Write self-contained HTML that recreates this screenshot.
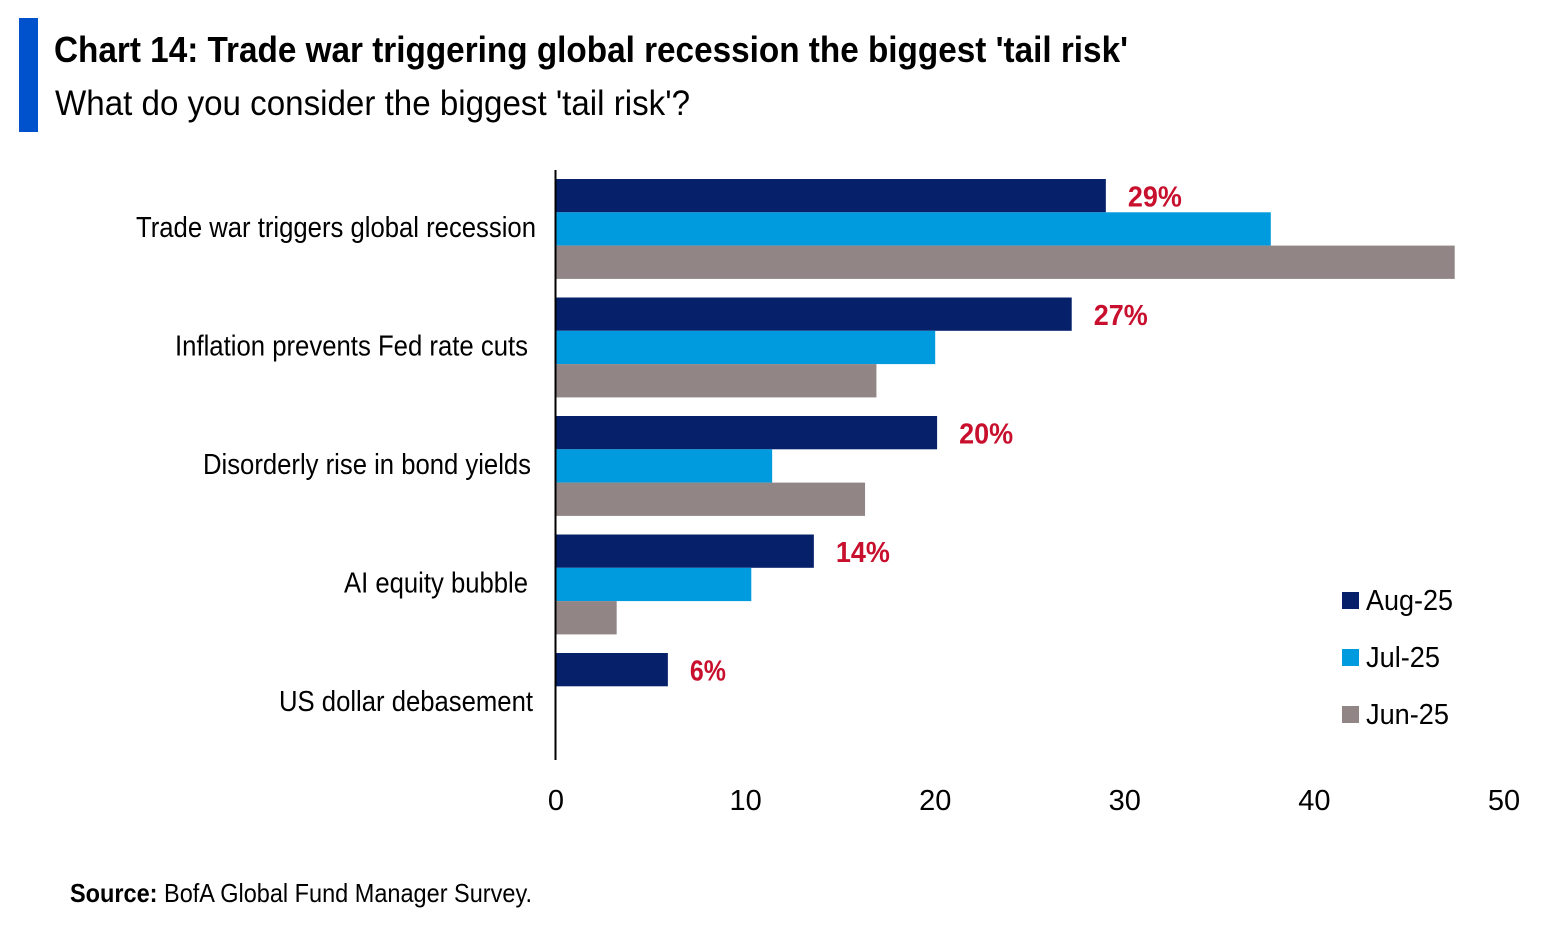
<!DOCTYPE html>
<html><head><meta charset="utf-8"><style>
body{margin:0;background:#fff;}
svg{display:block;font-family:"Liberation Sans Narrow","Liberation Sans",sans-serif;}
</style></head><body>
<svg id="chart" width="1562" height="928" xmlns="http://www.w3.org/2000/svg">
<rect x="19" y="18" width="19" height="114" fill="#0052cc"/>
<text x="54" y="62" font-size="36" font-weight="bold" textLength="1074" lengthAdjust="spacingAndGlyphs" fill="#000">Chart 14: Trade war triggering global recession the biggest 'tail risk'</text>
<text x="55" y="115" font-size="35" textLength="635" lengthAdjust="spacingAndGlyphs" fill="#000">What do you consider the biggest 'tail risk'?</text>
<g id="bars"></g>
<line x1="555.5" y1="170" x2="555.5" y2="760" stroke="#000" stroke-width="2"/>
<g id="xticks"></g>
<g id="legend"></g>
<text x="70" y="902" font-size="26" textLength="462" lengthAdjust="spacingAndGlyphs" fill="#000"><tspan font-weight="bold">Source:</tspan> BofA Global Fund Manager Survey.</text>
</svg>
<script>
const categories=["Trade war triggers global recession","Inflation prevents Fed rate cuts","Disorderly rise in bond yields","AI equity bubble","US dollar debasement"];
const seriesNames=["Aug-25","Jul-25","Jun-25"];
const aug=[29,27.2,20.1,13.6,5.9];
const jul=[37.7,20,11.4,10.3,0];
const jun=[47.4,16.9,16.3,3.2,0];
const labels=["29%","27%","20%","14%","6%"];
const ticks=[0,10,20,30,40,50];
const colors=["#06206a","#009ade","#918585"];
const labelEnds=[536,528,531,528,533];
const labelWidths=[400,353,328,184,254];
const legendWidths=[87,74,83];
const NS="http://www.w3.org/2000/svg";
const x0=556,x1=1504,xmax=50;
const xs=v=>x0+(x1-x0)*v/xmax;
const gTop=179,gStep=118.5,barH=33.3;
const bars=document.getElementById('bars');
function mk(t,a,p){const e=document.createElementNS(NS,t);for(const k in a)e.setAttribute(k,a[k]);p.appendChild(e);return e;}
const all=[aug,jul,jun];
categories.forEach((c,i)=>{
  const y=gTop+i*gStep;
  all.forEach((s,j)=>{
    if(s[i]<=0)return;
    const r=mk('rect',{x:x0,y:y+j*barH,width:xs(s[i])-x0,height:barH,fill:colors[j]},bars);
    
    
  });
  const w=labelWidths[i];
  const t=mk('text',{x:labelEnds[i]-w,y:y+barH*1.5+8,'font-size':29,textLength:w,lengthAdjust:'spacingAndGlyphs',fill:'#000'},bars);
  t.textContent=c;
  
  
  const lw=labels[i].length*18;
  const l=mk('text',{x:xs(aug[i])+22,y:y+barH/2+11,'font-size':29,'font-weight':'bold',textLength:lw,lengthAdjust:'spacingAndGlyphs',fill:'#c8102e'},bars);
  l.textContent=labels[i];
  
  
});
const xt=document.getElementById('xticks');
ticks.forEach(v=>{
  const t=mk('text',{x:xs(v),y:810,'font-size':29,'text-anchor':'middle',fill:'#000'},xt);
  t.textContent=v;
  
  
});
const lg=document.getElementById('legend');
seriesNames.forEach((n,j)=>{
  const y=600+j*57;
  const r=mk('rect',{x:1342,y:y-8,width:17,height:17,fill:colors[j]},lg);
  
  
  const t=mk('text',{x:1366,y:y+10,'font-size':29,textLength:legendWidths[j],lengthAdjust:'spacingAndGlyphs',fill:'#000'},lg);
  t.textContent=n;
  
  
});
</script>
</body></html>
